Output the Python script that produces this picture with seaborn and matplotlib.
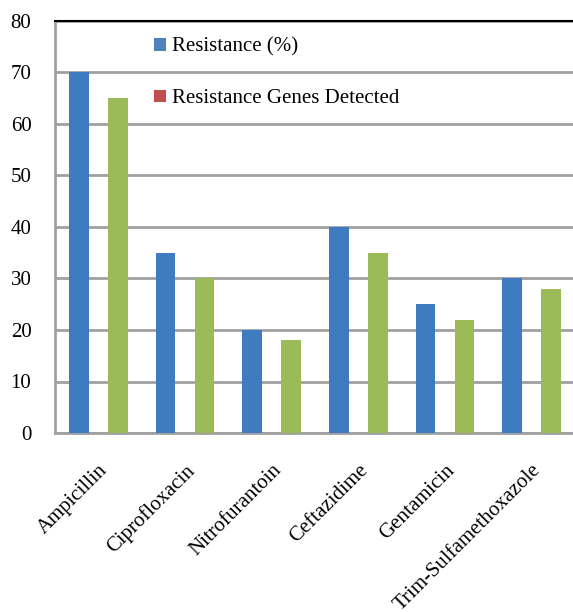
import matplotlib
matplotlib.use("Agg")
import matplotlib.pyplot as plt
import seaborn as sns
import pandas as pd
from matplotlib.patches import Patch

antibiotics = ["Ampicillin", "Ciprofloxacin", "Nitrofurantoin", "Ceftazidime",
               "Gentamicin", "Trim-Sulfamethoxazole"]
resistance_pct = [70, 35, 20, 40, 25, 30]
genes_detected = [65, 30, 18, 35, 22, 28]
series_names = ["Resistance (%)", "Resistance Genes Detected"]
y_ticks = [0, 10, 20, 30, 40, 50, 60, 70, 80]

df = pd.DataFrame({
    "Antibiotic": antibiotics * 2,
    "Value": resistance_pct + genes_detected,
    "Series": [series_names[0]] * len(antibiotics) + [series_names[1]] * len(antibiotics),
})

sns.set_style("white")
plt.rcParams["font.family"] = ["Liberation Serif", "DejaVu Serif"]
plt.rcParams["text.color"] = "black"
plt.rcParams["xtick.color"] = "black"
plt.rcParams["ytick.color"] = "black"

fig = plt.figure(figsize=(5.73, 6.12), dpi=100)
ax = fig.add_axes([55 / 573, 179 / 612, 520 / 573, 412 / 612])

bar_colors = ["#3F7CBF", "#9BBB59"]
sns.barplot(data=df, x="Antibiotic", y="Value", hue="Series", order=antibiotics,
            hue_order=series_names, palette=bar_colors, width=0.9, gap=0.5,
            saturation=1, legend=False, linewidth=0, ax=ax, zorder=3)

ax.set_xlim(-0.5, 5.5)
ax.set_ylim(0, 80)
ax.set_yticks(y_ticks)
ax.set_xlabel("")
ax.set_ylabel("")

grid_gray = "#A0A0A0"
ax.yaxis.grid(True, color=grid_gray, linewidth=2, zorder=0)
ax.set_axisbelow(True)

ax.spines["right"].set_visible(False)
ax.spines["top"].set_color("black")
ax.spines["top"].set_linewidth(1.5)
for side in ["left", "bottom"]:
    ax.spines[side].set_color(grid_gray)
    ax.spines[side].set_linewidth(2)

ax.set_xticks([i - 0.5 for i in range(len(antibiotics))], minor=True)
ax.tick_params(axis="x", which="minor", length=6, width=2, color=grid_gray, direction="out")
ax.tick_params(axis="x", which="major", length=0, pad=20)
ax.tick_params(axis="y", length=6, width=2, color=grid_gray, labelcolor="black",
               direction="out", labelsize=15, pad=11)
ax.set_xticks(range(len(antibiotics)))
ax.set_xticklabels(antibiotics, rotation=45, ha="right", rotation_mode="anchor",
                   fontsize=15, color="black")

handles = [Patch(facecolor="#4F81BD", edgecolor="none"),
           Patch(facecolor="#C0504D", edgecolor="none")]
ax.legend(handles, series_names, loc="upper left", bbox_to_anchor=(0.155, 1.005),
          frameon=False, fontsize=15, handlelength=0.55, handleheight=0.55,
          handletextpad=0.3, labelspacing=1.55)

fig.savefig("out.png", dpi=100)
